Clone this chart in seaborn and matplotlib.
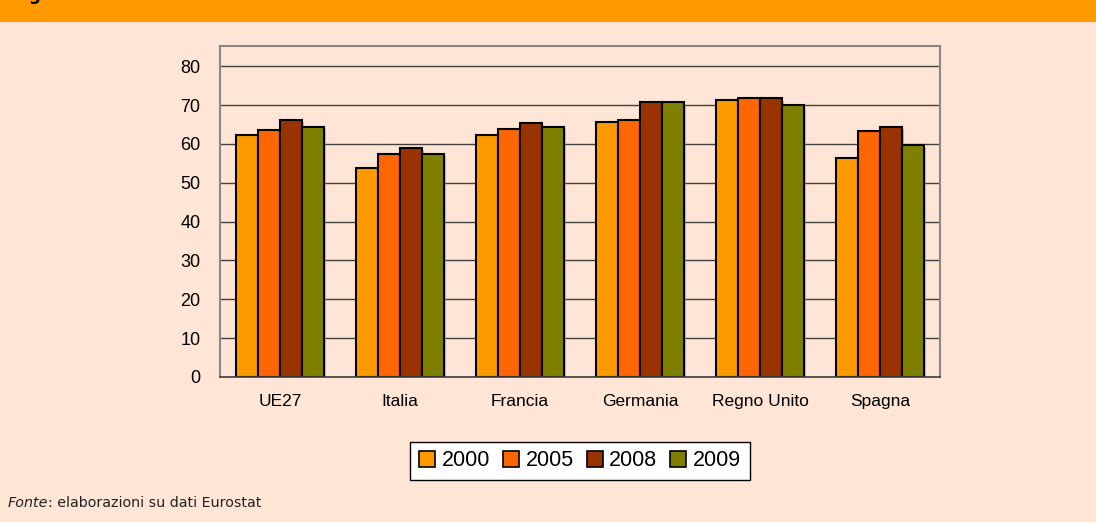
import matplotlib
matplotlib.use("Agg")
import matplotlib.pyplot as plt
import matplotlib.patheffects as pe
from matplotlib.patches import Rectangle
import seaborn as sns
import pandas as pd
import numpy as np

# values
paesi = ["UE27", "Italia", "Francia", "Germania", "Regno Unito", "Spagna"]
anni = ["2000", "2005", "2008", "2009"]
v2000 = [62.3, 53.7, 62.3, 65.7, 71.3, 56.3]
v2005 = [63.6, 57.5, 63.9, 66.2, 71.7, 63.2]
v2008 = [66.1, 58.9, 65.3, 70.8, 71.7, 64.4]
v2009 = [64.4, 57.5, 64.4, 70.8, 69.9, 59.7]
colori = ["#FF9900", "#FF6600", "#993300", "#808000"]

bg = "#FFE5D5"

rows = []
for anno, vals in zip(anni, [v2000, v2005, v2008, v2009]):
    for p, v in zip(paesi, vals):
        rows.append({"paese": p, "anno": anno, "valore": v})
df = pd.DataFrame(rows)

sns.set_style("white")
plt.rcParams["font.family"] = ["Liberation Sans", "DejaVu Sans"]
plt.rcParams["text.color"] = "black"
plt.rcParams["xtick.color"] = "black"
plt.rcParams["ytick.color"] = "black"

fig = plt.figure(figsize=(10.96, 5.22), dpi=100)
fig.patch.set_facecolor(bg)
ax = fig.add_axes([0.2007, 0.2778, 0.6570, 0.6341])
ax.set_facecolor(bg)

sns.barplot(data=df, x="paese", y="valore", hue="anno", order=paesi,
            hue_order=anni, palette=colori, width=0.73, saturation=1,
            edgecolor="black", linewidth=1.5, ax=ax, legend=True)

# light drop shadow like the original
for bar in ax.patches:
    bar.set_path_effects([pe.SimplePatchShadow(offset=(1.5, -1.5), shadow_rgbFace="#888888",
                                               alpha=0.5), pe.Normal()])

ax.set_ylim(0, 85.2)
ax.set_xlim(-0.5, len(paesi) - 0.5)
ax.set_yticks(np.arange(0, 81, 10))
ax.yaxis.grid(True, color="#404040", linewidth=1)
ax.set_axisbelow(True)
ax.set_xlabel("")
ax.set_ylabel("")
ax.tick_params(axis="y", length=0, labelsize=13, pad=14, labelcolor="black")
ax.tick_params(axis="x", length=0, labelsize=12.5, pad=12, labelcolor="black")
# tick marks between groups
ax.set_xticks(np.arange(-0.5, len(paesi), 1.0), minor=True)
ax.tick_params(axis="x", which="minor", length=6, color="#404040", width=1)
for s in ["left", "top", "right"]:
    ax.spines[s].set_color("#888888")
    ax.spines[s].set_linewidth(1.5)
ax.spines["bottom"].set_color("#404040")
ax.spines["bottom"].set_linewidth(1.2)

leg = ax.legend(loc="upper center", bbox_to_anchor=(0.5, -0.163), ncol=4,
                frameon=True, fontsize=15.5, handlelength=0.75, handleheight=0.75,
                handletextpad=0.3, columnspacing=0.6, borderpad=0.4,
                fancybox=False, edgecolor="black", facecolor="white")
leg.get_frame().set_linewidth(1)
leg.get_frame().set_alpha(1)
for h in leg.legend_handles:
    h.set_edgecolor("black")
    h.set_linewidth(1.2)
    h.set_path_effects([])

# orange band at top with the cut-off heading
fig.patches.append(Rectangle((0, 1 - 22 / 522), 1, 22 / 522, transform=fig.transFigure,
                             facecolor="#FF9900", edgecolor="none", zorder=0))
fig.text(12 / 1096, 1.0, "Figura", fontsize=12, fontweight="bold", va="baseline",
         family="DejaVu Sans", color="black")

# footer
t = fig.text(8 / 1096, 1 - 503 / 522, "Fonte", fontsize=10.3, style="italic",
             va="center", family="DejaVu Sans", color="#222222")
fig.canvas.draw()
bb = t.get_window_extent()
fig.text(bb.x1 / fig.bbox.width, 1 - 503 / 522, ": elaborazioni su dati Eurostat",
         fontsize=10.3, va="center", family="DejaVu Sans", color="#222222")

fig.savefig("out.png", dpi=100, facecolor=fig.get_facecolor())
